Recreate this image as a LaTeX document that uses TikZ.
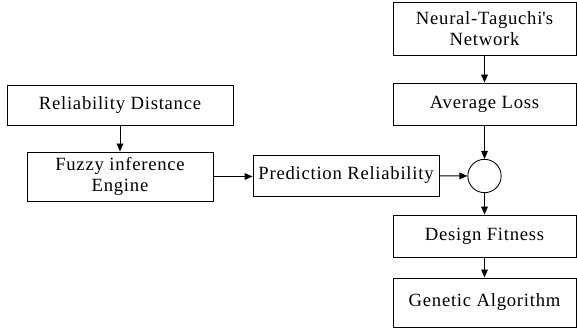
\documentclass[tikz,border=0pt]{standalone}
\usepackage{fontspec}
\setmainfont[LetterSpace=4]{Liberation Serif}
\usepackage{tikz}
\usetikzlibrary{positioning,arrows.meta}
\tikzstyle{pixelGrid} = [x = 0.75pt, y = -0.75pt]
\tikzstyle{blockStyle} = [draw, line width=0.65pt, align=center, font=\fontsize{14}{15.5}\selectfont, inner sep=0pt]
\tikzstyle{joinStyle} = [draw, circle, line width=0.65pt, minimum size=25pt, inner sep=0pt]
\tikzstyle{flowArrow} = [line width=0.65pt, -{Triangle[length=6pt,width=5pt]}]
\newcommand{\block}[6]{\node [blockStyle, minimum width=#4*0.75pt, minimum height=#5*0.75pt] (#1) at (#2,#3) {#6};}

\begin{document}
\begin{tikzpicture}[pixelGrid]
  \useasboundingbox (0,0) rectangle (577,331);
  % left branch
  \block{relDist}{120}{105}{226}{40}{Reliability Distance}
  \block{fuzzy}{120}{176.5}{186}{49}{Fuzzy inference\\Engine}
  \block{predRel}{346}{175.5}{186}{41}{Prediction Reliability}
  % right column
  \block{neural}{484.5}{28.5}{183}{53}{Neural-Taguchi\textquotesingle s\\Network}
  \block{avgLoss}{484.5}{104}{183}{42}{Average Loss}
  \node [joinStyle] (join) at (484.5,176) {};
  \block{fitness}{484.5}{236}{183}{42}{Design Fitness}
  \block{genetic}{484.5}{302.5}{183}{49}{Genetic Algorithm}

  \draw [flowArrow] (relDist) -- (fuzzy);
  \draw [flowArrow] (fuzzy) -- (fuzzy -| predRel.west);
  \draw [flowArrow] (predRel) -- (join);
  \draw [flowArrow] (neural) -- (avgLoss);
  \draw [flowArrow] (avgLoss) -- (join);
  \draw [flowArrow] (join) -- (fitness);
  \draw [flowArrow] (fitness) -- (genetic);
\end{tikzpicture}
\end{document}
